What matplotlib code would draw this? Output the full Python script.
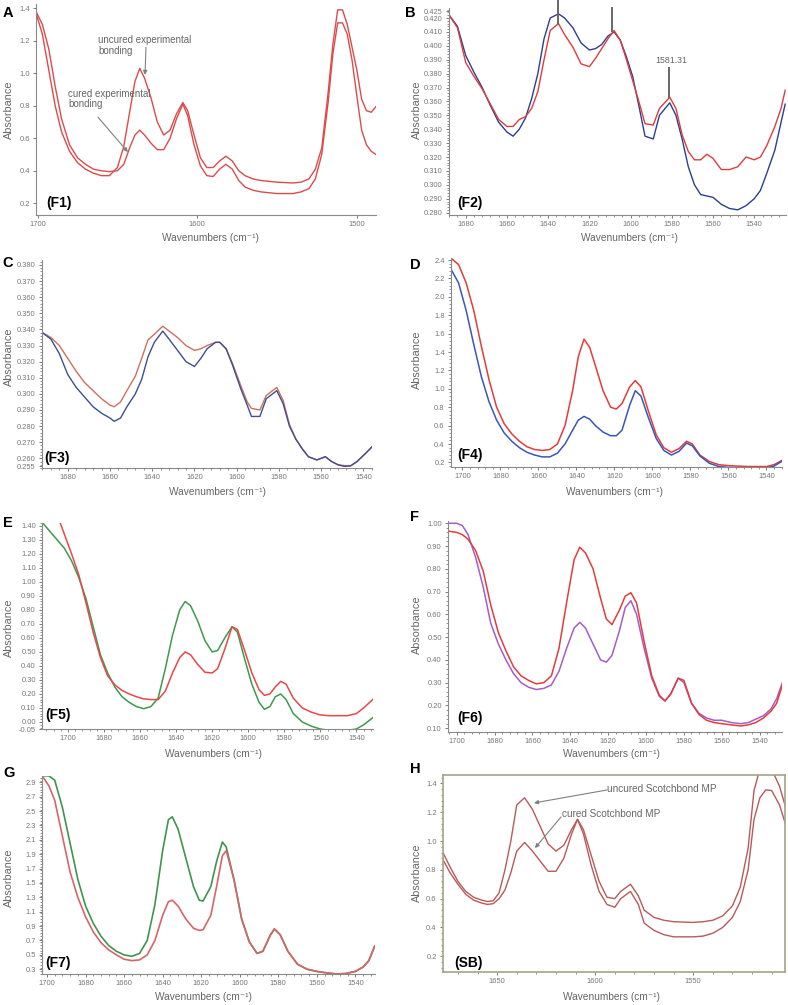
import numpy as np
import matplotlib
matplotlib.use("Agg")
import matplotlib.pyplot as plt
from matplotlib.ticker import MultipleLocator, FixedLocator, FormatStrFormatter

plt.rcParams['font.family'] = ['Liberation Sans', 'DejaVu Sans']

# ---- data ----
# A (F1): experimental bonding
a_wn = [1701, 1697, 1693, 1689, 1685, 1680, 1675, 1670, 1665, 1660, 1655, 1650, 1646, 1642, 1639, 1636,
        1633, 1629, 1625, 1621, 1617, 1613, 1609, 1606, 1602, 1598, 1594, 1590, 1586, 1582, 1578, 1574,
        1570, 1565, 1560, 1550, 1540, 1535, 1530, 1526, 1522, 1518, 1515, 1512, 1509, 1506, 1503, 1500,
        1497, 1494, 1491, 1488]
a_uncured = [1.37, 1.24, 1.02, 0.80, 0.64, 0.52, 0.45, 0.41, 0.385, 0.37, 0.37, 0.42, 0.55, 0.78, 0.95, 1.03,
             0.97, 0.85, 0.70, 0.62, 0.65, 0.75, 0.82, 0.77, 0.62, 0.48, 0.42, 0.42, 0.46, 0.49, 0.46, 0.40,
             0.37, 0.35, 0.34, 0.33, 0.325, 0.33, 0.35, 0.41, 0.54, 0.88, 1.18, 1.39, 1.39, 1.30, 1.16, 1.02,
             0.84, 0.77, 0.76, 0.795]
a_cured = [1.38, 1.30, 1.15, 0.92, 0.72, 0.56, 0.48, 0.44, 0.41, 0.40, 0.395, 0.40, 0.44, 0.55, 0.62, 0.65,
           0.62, 0.57, 0.53, 0.53, 0.60, 0.72, 0.81, 0.74, 0.56, 0.43, 0.37, 0.365, 0.41, 0.44, 0.41, 0.34,
           0.30, 0.28, 0.27, 0.26, 0.26, 0.27, 0.29, 0.35, 0.50, 0.82, 1.12, 1.31, 1.31, 1.24, 1.08, 0.86,
           0.65, 0.56, 0.52, 0.50]

# B (F2)
b_wn = [1688, 1684, 1680, 1676, 1672, 1668, 1664, 1660, 1657, 1654, 1651, 1648, 1645, 1642, 1639, 1635,
        1632, 1628, 1624, 1620, 1617, 1614, 1611, 1608, 1605, 1602, 1599, 1596, 1593, 1589, 1586, 1581,
        1578, 1575, 1572, 1569, 1566, 1563, 1560, 1556, 1552, 1548, 1544, 1540, 1537, 1534, 1530, 1527, 1525]
b_blue = [0.422, 0.414, 0.393, 0.381, 0.370, 0.357, 0.345, 0.338, 0.335, 0.340, 0.348, 0.362, 0.380, 0.405, 0.420, 0.423,
          0.420, 0.413, 0.402, 0.397, 0.398, 0.401, 0.407, 0.410, 0.404, 0.392, 0.378, 0.357, 0.335, 0.333, 0.350, 0.359,
          0.350, 0.333, 0.313, 0.300, 0.293, 0.292, 0.291, 0.286, 0.283, 0.282, 0.285, 0.290, 0.296, 0.308, 0.325, 0.345, 0.358]
b_red = [0.422, 0.413, 0.388, 0.378, 0.369, 0.358, 0.347, 0.342, 0.342, 0.347, 0.349, 0.355, 0.367, 0.390, 0.411, 0.416,
         0.408, 0.399, 0.387, 0.385, 0.391, 0.398, 0.405, 0.411, 0.404, 0.390, 0.375, 0.360, 0.344, 0.343, 0.355, 0.363,
         0.355, 0.336, 0.324, 0.318, 0.318, 0.322, 0.319, 0.311, 0.311, 0.313, 0.320, 0.318, 0.320, 0.328, 0.342, 0.355, 0.368]
b_peaks = [1635.4, 1608.8, 1581.31]

# C (F3)
c_wn = [1692, 1688, 1684, 1680, 1676, 1672, 1668, 1664, 1660, 1658, 1655, 1652, 1648, 1645, 1642, 1639,
        1635, 1632, 1628, 1624, 1620, 1617, 1614, 1610, 1608, 1605, 1602, 1598, 1595, 1593, 1589, 1586,
        1581, 1578, 1575, 1572, 1569, 1566, 1562, 1558, 1555, 1552, 1549, 1546, 1543, 1539, 1536]
c_blue = [0.338, 0.334, 0.325, 0.312, 0.304, 0.298, 0.292, 0.288, 0.285, 0.283, 0.285, 0.292, 0.300, 0.309, 0.323, 0.332,
          0.339, 0.334, 0.327, 0.320, 0.317, 0.322, 0.328, 0.332, 0.332, 0.328, 0.318, 0.303, 0.293, 0.286, 0.286, 0.297,
          0.302, 0.294, 0.280, 0.272, 0.266, 0.261, 0.259, 0.261, 0.258, 0.256, 0.255, 0.2553, 0.258, 0.263, 0.267]
c_red = [0.338, 0.335, 0.330, 0.322, 0.314, 0.307, 0.302, 0.297, 0.293, 0.292, 0.295, 0.302, 0.311, 0.322, 0.3335, 0.337,
         0.342, 0.339, 0.335, 0.330, 0.327, 0.328, 0.330, 0.332, 0.332, 0.328, 0.319, 0.305, 0.295, 0.291, 0.290, 0.299,
         0.304, 0.296, 0.281, 0.272, 0.266, 0.261, 0.259, 0.261, 0.258, 0.256, 0.2555, 0.2555, 0.258, 0.263, 0.267]

# D (F4)
d_wn = [1706, 1702, 1698, 1694, 1690, 1686, 1682, 1678, 1674, 1670, 1666, 1662, 1658, 1654, 1650, 1646,
        1642, 1639, 1636, 1633, 1630, 1626, 1622, 1619, 1616, 1612, 1609, 1606, 1602, 1598, 1594, 1590,
        1586, 1582, 1579, 1575, 1570, 1565, 1560, 1550, 1540, 1536, 1532]
d_red = [2.42, 2.35, 2.15, 1.85, 1.46, 1.10, 0.80, 0.62, 0.51, 0.43, 0.37, 0.34, 0.33, 0.34, 0.40, 0.60,
         0.98, 1.35, 1.54, 1.45, 1.25, 0.98, 0.80, 0.78, 0.84, 1.02, 1.09, 1.02, 0.75, 0.50, 0.36, 0.31,
         0.35, 0.43, 0.40, 0.28, 0.21, 0.175, 0.165, 0.155, 0.155, 0.175, 0.22]
d_blue = [2.30, 2.15, 1.85, 1.48, 1.13, 0.86, 0.66, 0.52, 0.43, 0.36, 0.31, 0.28, 0.26, 0.26, 0.30, 0.40,
          0.55, 0.66, 0.70, 0.67, 0.60, 0.53, 0.49, 0.49, 0.55, 0.82, 0.98, 0.92, 0.68, 0.46, 0.33, 0.28,
          0.32, 0.41, 0.38, 0.27, 0.19, 0.155, 0.145, 0.14, 0.14, 0.16, 0.21]

# E (F5)
e_wn = [1714, 1710, 1706, 1702, 1698, 1694, 1690, 1686, 1682, 1678, 1674, 1670, 1666, 1662, 1658, 1654,
        1650, 1646, 1642, 1638, 1635, 1632, 1628, 1624, 1620, 1617, 1613, 1609, 1606, 1602, 1598, 1594,
        1591, 1588, 1585, 1582, 1579, 1575, 1570, 1565, 1560, 1555, 1550, 1545, 1540, 1536, 1531]
e_green = [1.42, 1.36, 1.30, 1.24, 1.15, 1.03, 0.88, 0.68, 0.48, 0.35, 0.25, 0.18, 0.14, 0.11, 0.095, 0.11,
           0.17, 0.38, 0.62, 0.80, 0.86, 0.83, 0.72, 0.58, 0.50, 0.51, 0.60, 0.68, 0.64, 0.45, 0.27, 0.14,
           0.09, 0.11, 0.18, 0.20, 0.16, 0.06, 0.00, -0.03, -0.05, -0.06, -0.055, -0.06, -0.05, -0.02, 0.03]
e_red = [1.76, 1.62, 1.48, 1.34, 1.20, 1.05, 0.85, 0.64, 0.46, 0.33, 0.265, 0.225, 0.20, 0.18, 0.165, 0.16,
         0.16, 0.22, 0.35, 0.46, 0.50, 0.48, 0.41, 0.355, 0.35, 0.38, 0.52, 0.68, 0.66, 0.51, 0.35, 0.23,
         0.19, 0.20, 0.25, 0.29, 0.27, 0.17, 0.10, 0.07, 0.05, 0.045, 0.045, 0.045, 0.06, 0.10, 0.16]

# F (F6)
f_wn = [1704, 1700, 1697, 1694, 1690, 1686, 1682, 1678, 1674, 1670, 1666, 1662, 1658, 1654, 1650, 1646,
        1642, 1638, 1635, 1632, 1628, 1624, 1621, 1618, 1614, 1611, 1608, 1605, 1601, 1597, 1593, 1590,
        1587, 1583, 1580, 1576, 1572, 1568, 1564, 1560, 1555, 1550, 1546, 1542, 1538, 1534, 1531, 1528]
f_purple = [1.00, 1.00, 0.99, 0.95, 0.85, 0.72, 0.56, 0.47, 0.40, 0.34, 0.30, 0.28, 0.27, 0.275, 0.29, 0.35,
            0.45, 0.54, 0.565, 0.54, 0.47, 0.40, 0.39, 0.42, 0.53, 0.63, 0.66, 0.60, 0.45, 0.32, 0.24, 0.22,
            0.25, 0.32, 0.30, 0.21, 0.165, 0.145, 0.135, 0.135, 0.125, 0.12, 0.125, 0.14, 0.155, 0.185, 0.23, 0.30]
f_red = [0.965, 0.96, 0.95, 0.93, 0.88, 0.79, 0.64, 0.52, 0.44, 0.37, 0.33, 0.31, 0.295, 0.30, 0.33, 0.45,
         0.65, 0.84, 0.895, 0.87, 0.80, 0.67, 0.58, 0.555, 0.62, 0.68, 0.695, 0.65, 0.48, 0.33, 0.245, 0.22,
         0.25, 0.32, 0.31, 0.21, 0.16, 0.135, 0.125, 0.12, 0.115, 0.11, 0.115, 0.125, 0.145, 0.175, 0.21, 0.29]

# G (F7)
g_wn = [1702, 1699, 1696, 1692, 1688, 1684, 1680, 1676, 1672, 1668, 1664, 1660, 1656, 1652, 1648, 1644,
        1640, 1637, 1635, 1632, 1628, 1624, 1621, 1619, 1615, 1612, 1609, 1607, 1603, 1599, 1595, 1591,
        1588, 1584, 1582, 1579, 1575, 1570, 1565, 1560, 1555, 1550, 1545, 1540, 1536, 1533, 1530]
g_green = [2.99, 2.99, 2.93, 2.55, 2.05, 1.55, 1.18, 0.94, 0.76, 0.63, 0.55, 0.50, 0.48, 0.52, 0.70, 1.20,
           1.95, 2.38, 2.42, 2.25, 1.85, 1.45, 1.26, 1.25, 1.45, 1.80, 2.07, 2.00, 1.55, 1.00, 0.68, 0.52,
           0.55, 0.78, 0.86, 0.78, 0.55, 0.37, 0.30, 0.27, 0.25, 0.235, 0.24, 0.27, 0.33, 0.42, 0.62]
g_red = [2.97, 2.85, 2.65, 2.15, 1.65, 1.30, 1.03, 0.82, 0.67, 0.57, 0.50, 0.44, 0.42, 0.43, 0.50, 0.70,
         1.05, 1.24, 1.26, 1.18, 1.00, 0.87, 0.84, 0.85, 1.05, 1.45, 1.88, 1.95, 1.55, 1.00, 0.68, 0.52,
         0.55, 0.78, 0.86, 0.78, 0.55, 0.37, 0.30, 0.27, 0.25, 0.235, 0.24, 0.27, 0.33, 0.42, 0.62]

# H (SB): Scotchbond MP
h_wn = [1678, 1674, 1670, 1666, 1662, 1658, 1655, 1652, 1649, 1646, 1643, 1640, 1636, 1632, 1628, 1624,
        1620, 1616, 1612, 1609, 1606, 1602, 1598, 1594, 1590, 1587, 1582, 1578, 1575, 1570, 1565, 1560,
        1550, 1545, 1540, 1535, 1530, 1526, 1522, 1519, 1516, 1513, 1510, 1506, 1503]
h_uncured = [0.93, 0.82, 0.72, 0.65, 0.61, 0.59, 0.58, 0.585, 0.64, 0.80, 1.00, 1.25, 1.30, 1.22, 1.10, 0.98,
             0.93, 0.97, 1.08, 1.15, 1.08, 0.90, 0.72, 0.61, 0.60, 0.65, 0.70, 0.62, 0.52, 0.47, 0.45, 0.44,
             0.435, 0.44, 0.45, 0.48, 0.55, 0.68, 0.95, 1.35, 1.50, 1.52, 1.50, 1.38, 1.24]
h_cured = [0.88, 0.78, 0.70, 0.63, 0.59, 0.57, 0.56, 0.565, 0.60, 0.66, 0.78, 0.93, 0.99, 0.93, 0.86, 0.79,
           0.79, 0.88, 1.05, 1.15, 1.05, 0.83, 0.65, 0.56, 0.54, 0.60, 0.65, 0.56, 0.43, 0.38, 0.35, 0.335,
           0.335, 0.34, 0.36, 0.40, 0.47, 0.58, 0.80, 1.15, 1.30, 1.355, 1.35, 1.25, 1.12]

W, H = 788, 1005
GRAY = '#777777'
fig = plt.figure(figsize=(W / 100, H / 100), dpi=100)


def to_ax(box, px, py):
    l, t, r, b = box
    return (px - l) / (r - l), (b - py) / (b - t)


def make_axes(box, xlim, ylim, xmaj, xmin, yticks, ymin, yfmt, xlab_px, ylab_px, frame=False):
    l, t, r, b = box
    ax = fig.add_axes([l / W, 1 - b / H, (r - l) / W, (b - t) / H])
    ax.set_xlim(*xlim)
    ax.set_ylim(*ylim)
    ax.xaxis.set_major_locator(MultipleLocator(xmaj))
    if xmin:
        ax.xaxis.set_minor_locator(MultipleLocator(xmin))
    ax.yaxis.set_major_locator(FixedLocator(yticks))
    if ymin:
        ax.yaxis.set_minor_locator(MultipleLocator(ymin))
    ax.yaxis.set_major_formatter(FormatStrFormatter(yfmt))
    for side in ['top', 'right']:
        ax.spines[side].set_visible(frame)
    for sp in ax.spines.values():
        sp.set_color('#a3a38a' if frame else '#8a8a8a')
        sp.set_linewidth(1.2 if frame else 0.8)
    ax.tick_params(which='major', labelsize=5.4, labelcolor=GRAY, color='#666666',
                   length=2.5, width=0.6, pad=2)
    ax.tick_params(which='minor', color='#666666', length=1.5, width=0.5)
    ax.set_xlabel('Wavenumbers (cm⁻¹)', fontsize=7.3, color='#666666')
    ax.set_ylabel('Absorbance', fontsize=7.8, color='#666666')
    # label anchors: x label by its top edge, y label by its right edge
    ax.xaxis.set_label_coords(*to_ax(box, xlab_px[0], xlab_px[1] - 5))
    ax.yaxis.set_label_coords(*to_ax(box, ylab_px[0] + 6, ylab_px[1]))
    return ax


def panel_text(letter, lpos, tag, tpos):
    fig.text(lpos[0] / W, 1 - lpos[1] / H, letter, fontsize=10.5, fontweight='bold',
             ha='left', va='center')
    fig.text(tpos[0] / W, 1 - tpos[1] / H, tag, fontsize=10, fontweight='bold',
             ha='left', va='center')


arrow = dict(arrowstyle='-|>', color='#808080', lw=0.8, mutation_scale=6, shrinkA=0, shrinkB=0)

# A
box = (36, 4, 376, 215)
ax = make_axes(box, (1701, 1488), (0.128, 1.426), 100, None, [0.2, 0.4, 0.6, 0.8, 1.0, 1.2, 1.4], None,
               '%.1f', (210, 238), (8, 110))
ax.plot(a_wn, a_uncured, color='#dc4b4b', lw=1.0)
ax.plot(a_wn, a_cured, color='#dc4b4b', lw=1.0)
ax.text(1662, 1.235, 'uncured experimental\nbonding', fontsize=7, color='#666666', va='top',
        linespacing=1.1)
ax.annotate('', xy=(1632.7, 0.99), xytext=(1632.1, 1.16), arrowprops=arrow)
ax.text(1681, 0.905, 'cured experimental\nbonding', fontsize=7, color='#666666', va='top',
        linespacing=1.1)
ax.annotate('', xy=(1643.4, 0.515), xytext=(1662.2, 0.73), arrowprops=arrow)
panel_text('A', (3, 13), '(F1)', (46, 203))

# B
box = (449, 8, 786, 215)
ax = make_axes(box, (1688.1, 1524.6), (0.2783, 0.4272), 20, 4,
               list(np.round(np.arange(0.28, 0.4201, 0.01), 3)) + [0.425], 0.002,
               '%.3f', (629, 238), (416, 110))
ax.plot(b_wn, b_blue, color='#2c3e94', lw=1.0)
ax.plot(b_wn, b_red, color='#e03c3c', lw=1.0)
ax.plot([b_peaks[0]] * 2, [0.433, 0.416], color='#666666', lw=1.4, clip_on=False)
ax.plot([b_peaks[1]] * 2, [0.4272, 0.4105], color='#666666', lw=1.4, clip_on=False)
ax.plot([b_peaks[2]] * 2, [0.384, 0.3635], color='#666666', lw=1.4, clip_on=False)
ax.text(b_peaks[2] - 1, 0.3895, '%.2f' % b_peaks[2], fontsize=6.3, color='#666666',
        ha='center', va='center')
panel_text('B', (405, 13), '(F2)', (457, 203))

# C
box = (42, 260, 372, 468)
ax = make_axes(box, (1692.2, 1535.9), (0.254, 0.3831), 20, 4,
               [0.255] + list(np.round(np.arange(0.26, 0.3801, 0.01), 3)), 0.002,
               '%.3f', (217, 492), (8, 357))
ax.plot(c_wn, c_red, color='#cf6f5e', lw=1.0)
ax.plot(c_wn, c_blue, color='#3d4f8f', lw=1.0)
panel_text('C', (2, 263), '(F3)', (44, 458))

# D
box = (451, 258, 782, 467)
ax = make_axes(box, (1706, 1531.8), (0.15, 2.422), 20, 4,
               list(np.round(np.arange(0.2, 2.41, 0.2), 1)), 0.04,
               '%.1f', (614, 492), (416, 360))
ax.plot(d_wn, d_red, color='#e53b3b', lw=1.1)
ax.plot(d_wn, d_blue, color='#3a56b8', lw=1.1)
panel_text('D', (410, 265), '(F4)', (457, 455))

# E
box = (42, 523, 373, 729)
ax = make_axes(box, (1714.4, 1530.8), (-0.05, 1.42), 20, 4,
               [-0.05] + list(np.round(np.arange(0.0, 1.41, 0.1), 2)), 0.02,
               '%.2f', (213, 754), (8, 628))
ax.plot(e_wn, e_green, color='#3d9a4d', lw=1.1)
ax.plot(e_wn, e_red, color='#e84848', lw=1.1)
panel_text('E', (3, 523), '(F5)', (45, 715))

# F
box = (448, 521, 782, 732)
ax = make_axes(box, (1704.6, 1528.2), (0.0835, 1.010), 20, 4,
               list(np.round(np.arange(0.1, 1.01, 0.1), 2)), 0.02,
               '%.2f', (611, 754), (416, 625))
ax.plot(f_wn, f_purple, color='#a65cc9', lw=1.1)
ax.plot(f_wn, f_red, color='#e23d3d', lw=1.1)
panel_text('F', (410, 517), '(F6)', (457, 718))

# G
box = (42, 776, 375, 974)
ax = make_axes(box, (1702.6, 1529.8), (0.234, 2.988), 20, 4,
               list(np.round(np.arange(0.3, 2.91, 0.2), 1)), 0.04,
               '%.1f', (203, 997), (8, 878))
ax.plot(g_wn, g_green, color='#3f9550', lw=1.2)
ax.plot(g_wn, g_red, color='#d8646a', lw=1.2)
panel_text('G', (3, 773), '(F7)', (45, 963))

# H
box = (443, 775, 785, 972)
ax = make_axes(box, (1677.6, 1503.2), (0.091, 1.458), 50, 10,
               [0.2, 0.4, 0.6, 0.8, 1.0, 1.2, 1.4], 0.04,
               '%.1f', (611, 997), (416, 873), frame=True)
ax.plot(h_wn, h_uncured, color='#b85a5a', lw=1.0)
ax.plot(h_wn, h_cured, color='#b85a5a', lw=1.0)
ax.text(1594, 1.361, 'uncured Scotchbond MP', fontsize=7.2, color='#666666', va='center')
ax.annotate('', xy=(1631.2, 1.264), xytext=(1594, 1.354), arrowprops=arrow)
ax.text(1616.9, 1.187, 'cured Scotchbond MP', fontsize=7.2, color='#666666', va='center')
ax.annotate('', xy=(1630.7, 0.951), xytext=(1617.4, 1.167), arrowprops=arrow)
panel_text('H', (410, 769), '(SB)', (454, 963))

fig.savefig('out.png', dpi=100)
